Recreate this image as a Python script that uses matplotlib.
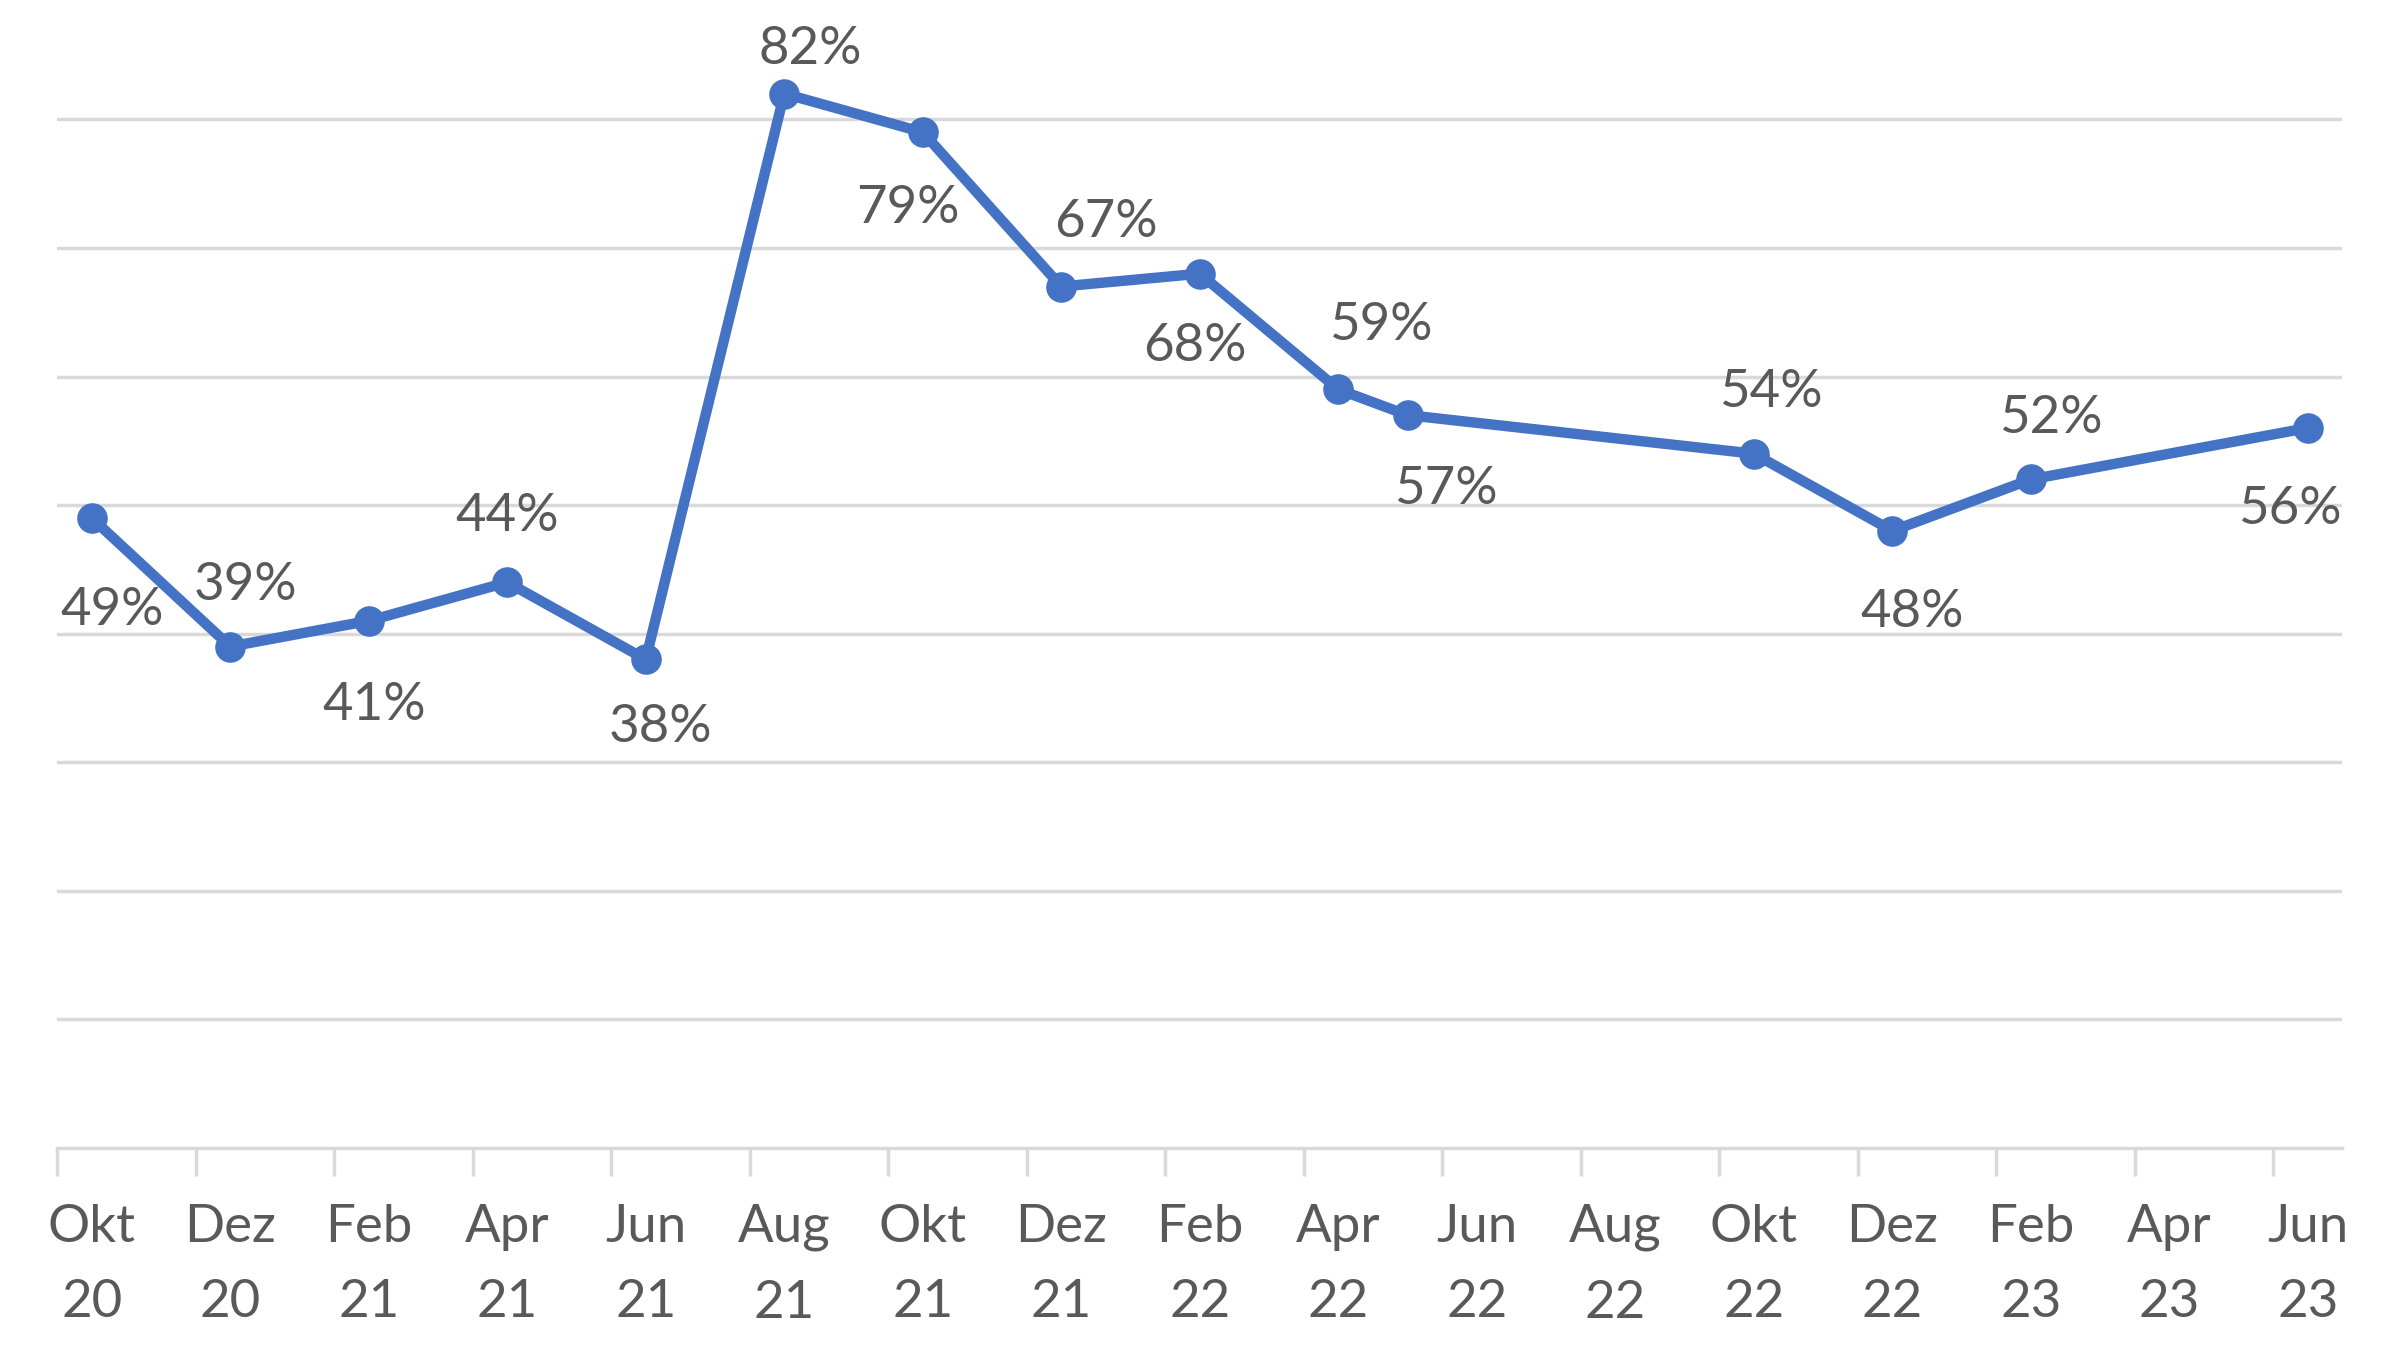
import matplotlib
matplotlib.use("Agg")
import matplotlib.pyplot as plt
from matplotlib.ticker import FixedLocator

# data
point_dates = ["2020-10", "2020-12", "2021-02", "2021-04", "2021-06", "2021-08",
               "2021-10", "2021-12", "2022-02", "2022-04", "2022-05", "2022-10",
               "2022-12", "2023-02", "2023-06"]
values = [0.49, 0.39, 0.41, 0.44, 0.38, 0.82, 0.79, 0.67, 0.68, 0.59, 0.57,
          0.54, 0.48, 0.52, 0.56]
tick_labels = ["Okt\n20", "Dez\n20", "Feb\n21", "Apr\n21", "Jun\n21", "Aug\n21",
               "Okt\n21", "Dez\n21", "Feb\n22", "Apr\n22", "Jun\n22", "Aug\n22",
               "Okt\n22", "Dez\n22", "Feb\n23", "Apr\n23", "Jun\n23"]

# month index counted from Okt 2020
def month_index(s):
    y, m = s.split("-")
    return (int(y) - 2020) * 12 + int(m) - 10

x = [month_index(d) for d in point_dates]

# label offsets in pixels (dx, dy)
offsets = [(20, -85), (15, 69), (5, -77), (0, 74), (15, -60), (26, 52),
           (-15, -68), (45, 72), (-5, -65), (43, 72), (38, -66), (17, 69),
           (20, -74), (20, 69), (-18, -74)]
shift = -8

plt.rcParams['font.family'] = ['Lato', 'DejaVu Sans']
txt_col = "#595959"
grid_col = "#D9D9D9"
line_col = "#4472C4"

fig = plt.figure(figsize=(24, 13.5), dpi=100)
ax = fig.add_axes([0.0238, 0.1496, 0.976 - 0.0238, 0.8096])

ax.plot(x, values, color=line_col, lw=7.5, marker='o', markersize=21,
        solid_joinstyle='round', clip_on=False, zorder=3)

for xi, v, (dx, dy) in zip(x, values, offsets):
    ax.annotate(f"{round(v*100)}%", (xi, v), xytext=(dx, dy + shift),
                textcoords='offset pixels', ha='center', va='center',
                fontsize=38, color=txt_col, annotation_clip=False)

ax.set_xlim(-0.5, 32.5)
ax.set_ylim(0, 0.85)
ax.yaxis.set_major_locator(FixedLocator([0.1*i for i in range(1, 9)]))
ax.set_xticks([i - 0.5 for i in range(0, 33, 2)])
ax.set_xticklabels([])
ax.xaxis.set_minor_locator(FixedLocator(list(range(0, 33, 2))))
ax.set_xticklabels(tick_labels, minor=True)
ax.tick_params(axis='x', which='major', length=20, width=2.5, color=grid_col,
               direction='out')
ax.tick_params(axis='x', which='minor', length=0, pad=40, labelsize=38,
               labelcolor=txt_col)
for lab in ax.get_xticklabels(minor=True):
    lab.set_linespacing(1.75)
ax.tick_params(axis='y', length=0, labelleft=False)
ax.grid(axis='y', color=grid_col, lw=2.5)
ax.set_axisbelow(True)
for s in ['top', 'right', 'left']:
    ax.spines[s].set_visible(False)
ax.spines['bottom'].set_color(grid_col)
ax.spines['bottom'].set_linewidth(2.5)

fig.savefig("out.png", dpi=100)
